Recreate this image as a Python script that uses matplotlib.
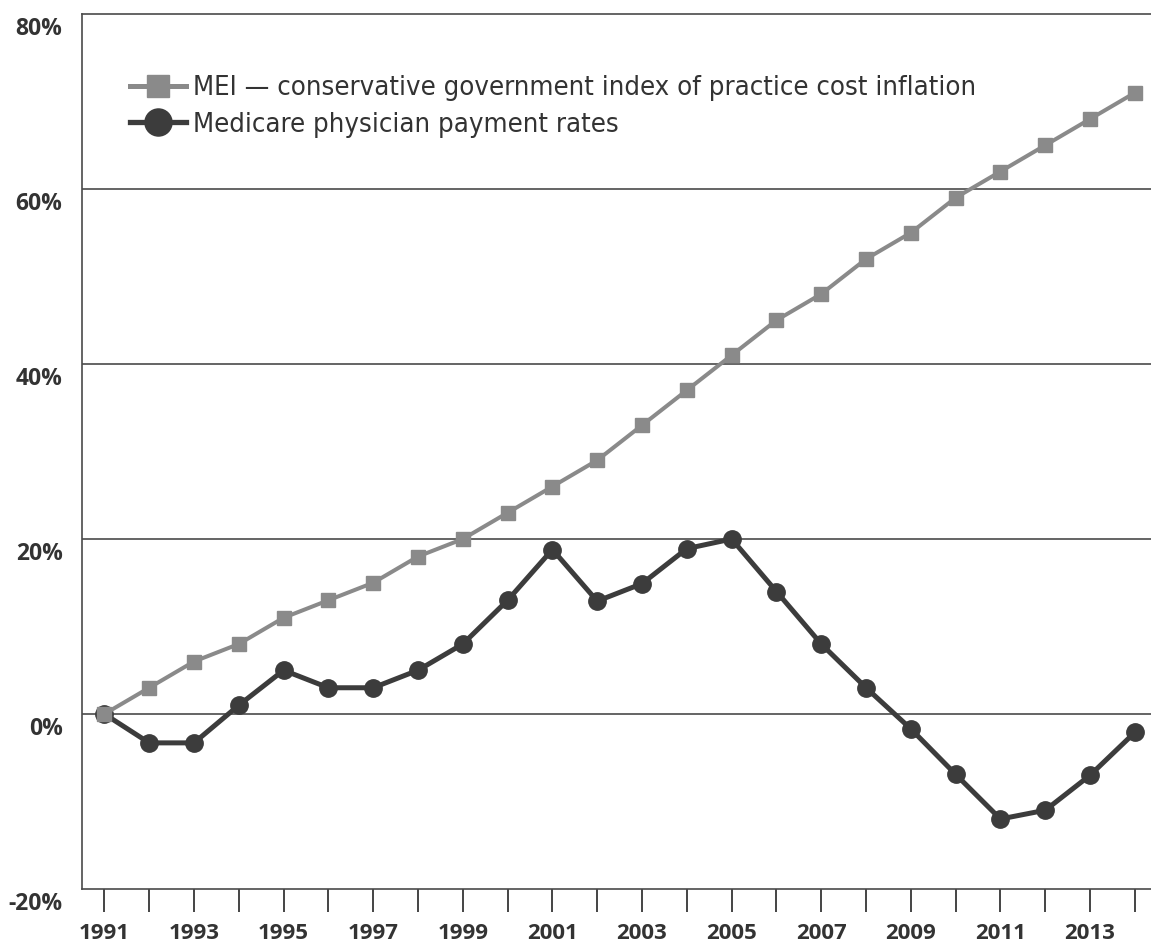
import matplotlib
matplotlib.use("Agg")
import matplotlib.pyplot as plt
import matplotlib.transforms as mtransforms
from matplotlib import font_manager
from matplotlib.font_manager import FontProperties
from matplotlib.lines import Line2D

years = list(range(1991, 2015))
mei = [0, 3, 6, 8, 11, 13, 15, 18, 20, 23, 26, 29, 33, 37, 41, 45, 48, 52, 55, 59, 62, 65, 68, 71]
medicare = [0, -3.3, -3.3, 1, 5, 3, 3, 5, 8, 13, 18.8, 12.9, 14.9, 18.9, 20, 14, 8, 3, -1.7, -6.9, -12, -11, -7, -2.1]
yticks = [-20, 0, 20, 40, 60, 80]
mei_label = "MEI \u2014 conservative government index of practice cost inflation"
medicare_label = "Medicare physician payment rates"

# look for a narrow face for the legend, the original uses a condensed sans
fonts = font_manager.fontManager.ttflist
narrow = [f for f in fonts
          if ("Condensed" in f.fname or "Narrow" in f.fname or f.stretch in ("condensed", "semi-condensed"))
          and f.weight in (400, "normal", "regular") and f.style == "normal"]
if narrow:
    legend_fp = FontProperties(fname=narrow[0].fname)
else:
    legend_fp = FontProperties(family="Roboto")
names = {f.name for f in fonts}
bold_font = "Open Sans" if "Open Sans" in names else "DejaVu Sans"

W, H = 1151, 948
fig = plt.figure(figsize=(W / 100, H / 100), dpi=100)
ax = fig.add_axes([82 / W, 59 / H, 1069 / W, 875 / H])

# size the legend font so the long label spans ~780 px as in the original
r = fig.canvas.get_renderer()
probe = fig.text(0, 0, mei_label, fontproperties=legend_fp, size=20)
w = probe.get_window_extent(r).width
probe.remove()
legend_size = min(23, 20 * 780 / w)

grid_col = "#4a4a4a"
mei_col = "#8a8a8a"
med_col = "#3c3c3c"
for v in [0, 20, 40, 60]:
    ax.axhline(v, color=grid_col, lw=1.2, zorder=1)

ax.plot(years, medicare, color=med_col, lw=3.6, marker="o", ms=12.5, zorder=3)
ax.plot(years, mei, color=mei_col, lw=2.9, marker="s", ms=9.5, zorder=4)

ax.set_xlim(1990.5, 2014.36)
ax.set_ylim(-20, 80)

for s in ["top", "left", "bottom"]:
    ax.spines[s].set_color(grid_col)
    ax.spines[s].set_linewidth(1.2)
ax.spines["right"].set_visible(False)

ax.set_xticks(years)
ax.set_xticklabels([str(y) if y % 2 == 1 else "" for y in years])
ax.set_yticks(yticks)
ax.set_yticklabels([f"{v}%" for v in yticks])
ax.tick_params(axis="x", direction="out", length=16.5, width=1.4, color="#444444",
               pad=8, labelsize=16, labelcolor="#333333")
ax.tick_params(axis="y", length=0, pad=14, labelsize=16.5, labelcolor="#333333")
for lab in ax.get_xticklabels() + ax.get_yticklabels():
    lab.set_fontfamily(bold_font)
    lab.set_fontweight("bold")

# y labels sit a bit below their gridlines in the original
off = mtransforms.ScaledTranslation(0, -12 / 100, fig.dpi_scale_trans)
for lab in ax.get_yticklabels():
    lab.set_transform(lab.get_transform() + off)

# legend keys are drawn larger than the plotted markers
legend_fp.set_size(legend_size)
handles = [
    Line2D([], [], color=mei_col, lw=3.6, marker="s", ms=15.8),
    Line2D([], [], color=med_col, lw=3.8, marker="o", ms=19.5),
]
leg = ax.legend(handles, [mei_label, medicare_label], loc="upper left",
                bbox_to_anchor=(0.045, 0.93), frameon=False, borderpad=0,
                borderaxespad=0, handlelength=2.05, handletextpad=0.25,
                labelspacing=0.38, prop=legend_fp)
for t in leg.get_texts():
    t.set_color("#333333")

fig.savefig("out.png", dpi=100)
